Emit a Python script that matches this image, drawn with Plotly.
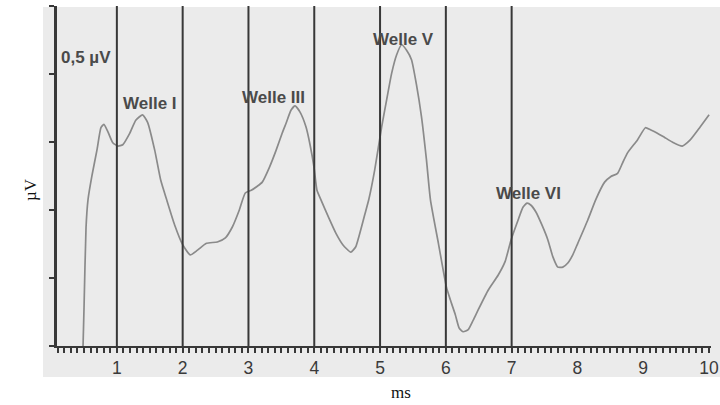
import plotly.graph_objects as go

# Brainstem auditory evoked potential trace (latency in ms, amplitude in µV)
latency_ms = [
    0.486, 0.501, 0.531, 0.561, 0.622, 0.697, 0.758, 0.803, 0.864, 0.938,
    1.015, 1.090, 1.197, 1.287, 1.391, 1.467, 1.575, 1.666, 1.757, 1.878,
    2.000, 2.116, 2.226, 2.362, 2.527, 2.649, 2.755, 2.861, 2.952, 3.043,
    3.134, 3.210, 3.315, 3.421, 3.512, 3.573, 3.648, 3.708, 3.784, 3.875,
    3.936, 3.996, 4.041, 4.102, 4.223, 4.328, 4.434, 4.555, 4.631, 4.676,
    4.767, 4.828, 4.919, 5.024, 5.100, 5.176, 5.251, 5.327, 5.403, 5.478,
    5.554, 5.630, 5.705, 5.766, 5.887, 6.008, 6.068, 6.144, 6.204, 6.264,
    6.340, 6.416, 6.491, 6.643, 6.794, 6.900, 6.991, 7.097, 7.172, 7.233,
    7.294, 7.369, 7.460, 7.551, 7.627, 7.702, 7.778, 7.854, 7.929, 8.005,
    8.156, 8.277, 8.413, 8.504, 8.610, 8.685, 8.761, 8.912, 9.033, 9.109,
    9.215, 9.321, 9.442, 9.593, 9.714, 9.865, 10.001,
]
amplitude_uv = [
    0.000, 0.057, 0.174, 0.215, 0.251, 0.288, 0.321, 0.326, 0.315, 0.299,
    0.294, 0.296, 0.313, 0.332, 0.340, 0.329, 0.288, 0.244, 0.215, 0.178,
    0.149, 0.134, 0.141, 0.151, 0.153, 0.159, 0.175, 0.200, 0.225, 0.229,
    0.235, 0.241, 0.262, 0.288, 0.313, 0.328, 0.347, 0.353, 0.344, 0.322,
    0.296, 0.263, 0.229, 0.215, 0.188, 0.166, 0.149, 0.138, 0.146, 0.160,
    0.193, 0.215, 0.259, 0.322, 0.362, 0.401, 0.428, 0.443, 0.435, 0.421,
    0.384, 0.337, 0.274, 0.215, 0.151, 0.087, 0.068, 0.046, 0.026, 0.021,
    0.024, 0.038, 0.053, 0.082, 0.104, 0.124, 0.156, 0.185, 0.204, 0.210,
    0.207, 0.197, 0.178, 0.156, 0.131, 0.116, 0.116, 0.122, 0.134, 0.151,
    0.185, 0.215, 0.241, 0.249, 0.254, 0.269, 0.284, 0.303, 0.321, 0.318,
    0.313, 0.307, 0.300, 0.294, 0.303, 0.322, 0.340,
]

# Vertical marker lines every millisecond
marker_ms = [1, 2, 3, 4, 5, 6, 7]

# Wave labels: text, left x (ms), y (µV)
wave_labels = ["0,5 µV", "Welle I", "Welle III", "Welle V", "Welle VI"]
wave_label_x = [0.118, 1.060, 2.876, 4.858, 6.734]
wave_label_y = [0.425, 0.357, 0.365, 0.451, 0.224]

x_tick_vals = [1, 2, 3, 4, 5, 6, 7, 8, 9, 10]
y_tick_vals = [0.0, 0.1, 0.2, 0.3, 0.4, 0.5]

X_RANGE = [0.09, 10.03]
Y_RANGE = [0.0, 0.5]

ML, MR, MT, MB = 57, 9, 6, 59
W, H = 720, 405
PW, PH = W - ML - MR, H - MT - MB

dark = "#383838"
trace_grey = "#8a8a8a"
panel_grey = "#ebebeb"

fig = go.Figure()

fig.add_trace(go.Scatter(
    x=latency_ms, y=amplitude_uv, mode="lines",
    line=dict(color=trace_grey, width=1.7, shape="spline", smoothing=0.5),
    hoverinfo="skip", showlegend=False,
))

shapes = []
# light grey panel behind the plot
shapes.append(dict(
    type="rect", xref="paper", yref="paper",
    x0=(43 - ML) / PW, x1=(W - ML) / PW,
    y0=(H - MB - 377) / PH, y1=(H - MB - 7) / PH,
    fillcolor=panel_grey, line=dict(width=0), layer="below",
))
for m in marker_ms:
    shapes.append(dict(
        type="line", xref="x", yref="paper", x0=m, x1=m, y0=0, y1=1,
        line=dict(color=dark, width=2), layer="above",
    ))

annotations = []
for t, x, y in zip(wave_labels, wave_label_x, wave_label_y):
    annotations.append(dict(
        x=x, y=y, xref="x", yref="y", text=t, showarrow=False,
        xanchor="left", yanchor="middle",
        font=dict(family="Liberation Sans, Arial", size=17, color="#4a4a4a",
                  weight="bold"),
    ))
annotations.append(dict(
    x=(401 - ML) / PW, y=(H - MB - 392) / PH, xref="paper", yref="paper",
    text="ms", showarrow=False, xanchor="center", yanchor="middle",
    font=dict(family="Liberation Serif, Times New Roman", size=17, color="#111"),
))
annotations.append(dict(
    x=(30 - ML) / PW, y=(H - MB - 190) / PH, xref="paper", yref="paper",
    text="µV", showarrow=False, xanchor="center", yanchor="middle",
    textangle=-90,
    font=dict(family="Liberation Serif, Times New Roman", size=17, color="#111"),
))

fig.update_layout(
    width=W, height=H,
    margin=dict(l=ML, r=MR, t=MT, b=MB, pad=0, autoexpand=False),
    paper_bgcolor="white",
    plot_bgcolor="rgba(0,0,0,0)",
    shapes=shapes,
    annotations=annotations,
    xaxis=dict(
        range=X_RANGE, tickvals=x_tick_vals,
        ticktext=[str(v) for v in x_tick_vals],
        ticklabeloverflow="allow", automargin=False,
        showgrid=False, zeroline=False,
        showline=True, linecolor=dark, linewidth=2,
        ticks="outside", ticklen=5, tickwidth=2, tickcolor=dark,
        tickfont=dict(family="Liberation Sans, Arial", size=17.5, color="#3a3a3a"),
        minor=dict(dtick=0.1, tick0=0, ticks="outside", ticklen=5,
                   tickwidth=1.5, tickcolor=dark, showgrid=False),
        fixedrange=True,
    ),
    yaxis=dict(
        range=Y_RANGE, tickvals=y_tick_vals, showticklabels=False,
        showgrid=False, zeroline=False, automargin=False,
        showline=True, linecolor=dark, linewidth=2.5,
        ticks="outside", ticklen=5, tickwidth=2, tickcolor=dark,
        fixedrange=True,
    ),
)

fig.write_html("out.html")
